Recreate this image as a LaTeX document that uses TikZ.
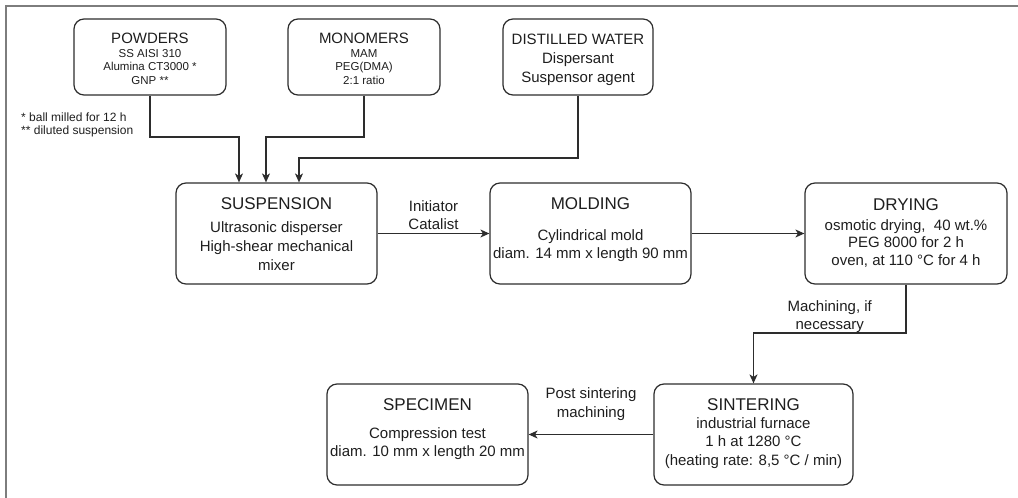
\documentclass[tikz,border=0pt]{standalone}
\usepackage{fontspec}
\setmainfont{Liberation Sans}
\usetikzlibrary{arrows.meta}
\definecolor{lc}{RGB}{45,45,45}
\definecolor{tc}{RGB}{30,30,30}
\definecolor{fc}{RGB}{125,125,125}
\newcommand{\ttlA}{\fontsize{17}{20}\selectfont}
\newcommand{\ttlB}{\fontsize{15}{18}\selectfont}
\begin{document}
\begin{tikzpicture}[x=1pt,y=-1pt,
  box/.style={draw=lc, line width=1.2pt, rounded corners=10pt, align=center, inner sep=0pt, text=tc},
  arr/.style={draw=lc, line width=1.2pt, -{Stealth[length=9pt,width=8pt,inset=2.5pt]}},
  lbl/.style={align=center, inner sep=0pt, text=tc, font=\fontsize{15}{18}\selectfont}]
\useasboundingbox (0,0) rectangle (1018,498);
\draw[fc, line width=1.5pt] (6,498) -- (6,6) -- (1018,6);

% top row
\node[box, minimum width=152pt, minimum height=76pt, font=\fontsize{11.5}{13.5}\selectfont] (pow) at (150,57)
  {\rule{0pt}{16pt}{\ttlB POWDERS}\\SS AISI 310\\Alumina CT3000 *\\GNP **\rule[-2.5pt]{0pt}{2.5pt}};
\node[box, minimum width=152pt, minimum height=76pt, font=\fontsize{11.5}{13.5}\selectfont] (mon) at (364,57)
  {\rule{0pt}{16pt}{\ttlB MONOMERS}\\MAM\\PEG(DMA)\\2:1 ratio\rule[-2.5pt]{0pt}{2.5pt}};
\node[box, minimum width=150pt, minimum height=76pt, font=\fontsize{15}{18.5}\selectfont] (wat) at (578,57)
  {\rule{0pt}{16.5pt}DISTILLED WATER\\[1pt]Dispersant\\Suspensor agent\rule[-3.6pt]{0pt}{3.6pt}};

\node[anchor=north west, align=left, inner sep=0pt, text=tc, font=\fontsize{12}{13.5}\selectfont] (notes) at (21,111)
  {\rule{0pt}{10pt}* ball milled for 12 h\\** diluted suspension};

% middle row
\node[box, minimum width=201pt, minimum height=101pt, font=\fontsize{15}{19}\selectfont] (susp) at (276.5,233.5)
  {\rule{0pt}{14pt}{\ttlA SUSPENSION}\\[4pt]Ultrasonic disperser\\High-shear mechanical\\mixer\rule[-2pt]{0pt}{2pt}};
\node[box, minimum width=201pt, minimum height=101pt, font=\fontsize{15}{18}\selectfont] (mold) at (590.5,233.5)
  {\rule{0pt}{14pt}{\ttlA MOLDING}\\[13pt]Cylindrical mold\\diam. 14 mm x length 90 mm\rule[-14pt]{0pt}{14pt}};
\node[box, minimum width=202pt, minimum height=101pt, font=\fontsize{15}{17.5}\selectfont] (dry) at (906,233.5)
  {\rule{0pt}{14pt}{\ttlA DRYING}\\[2.5pt]osmotic drying,\ \ 40 wt.\%\\PEG 8000 for 2 h\\oven, at 110 °C for 4 h\rule[-6pt]{0pt}{6pt}};

% bottom row
\node[box, minimum width=199pt, minimum height=101pt, font=\fontsize{15}{18.5}\selectfont] (sint) at (753.5,434.5)
  {\rule{0pt}{14pt}{\ttlA SINTERING}\\[-0.5pt]industrial furnace\\1 h at 1280 °C\\(heating rate: 8,5 °C / min)\rule[-8pt]{0pt}{8pt}};
\node[box, minimum width=201pt, minimum height=101pt, font=\fontsize{15}{18}\selectfont] (spec) at (427.5,434.5)
  {\rule{0pt}{14pt}{\ttlA SPECIMEN}\\[10pt]Compression test\\diam. 10 mm x length 20 mm\rule[-17pt]{0pt}{17pt}};

% connectors
\coordinate (cA) at (239,137);
\coordinate (cB) at (266,137);
\coordinate (cC) at (299,158);
\coordinate (cD) at (906,333);
\draw[arr] (pow.south) |- (cA) -- (cA |- susp.north);
\draw[arr] (mon.south) |- (cB) -- (cB |- susp.north);
\draw[arr] (wat.south) |- (cC) -- (cC |- susp.north);
\draw[arr] (susp) -- node[lbl, midway, anchor=south, yshift=3.5pt] (lini) {Initiator\\Catalist} (mold);
\draw[arr] (mold) -- (dry);
\draw[arr] (dry.south) -- (cD) -| node[lbl, pos=0.25, anchor=south] (lmach) {Machining, if\\necessary} (sint.north);
\draw[arr] (sint) -- node[lbl, midway, anchor=south, yshift=13.3pt, font=\fontsize{15}{19}\selectfont] (lpost) {Post sintering\\machining} (spec);
\end{tikzpicture}
\end{document}
